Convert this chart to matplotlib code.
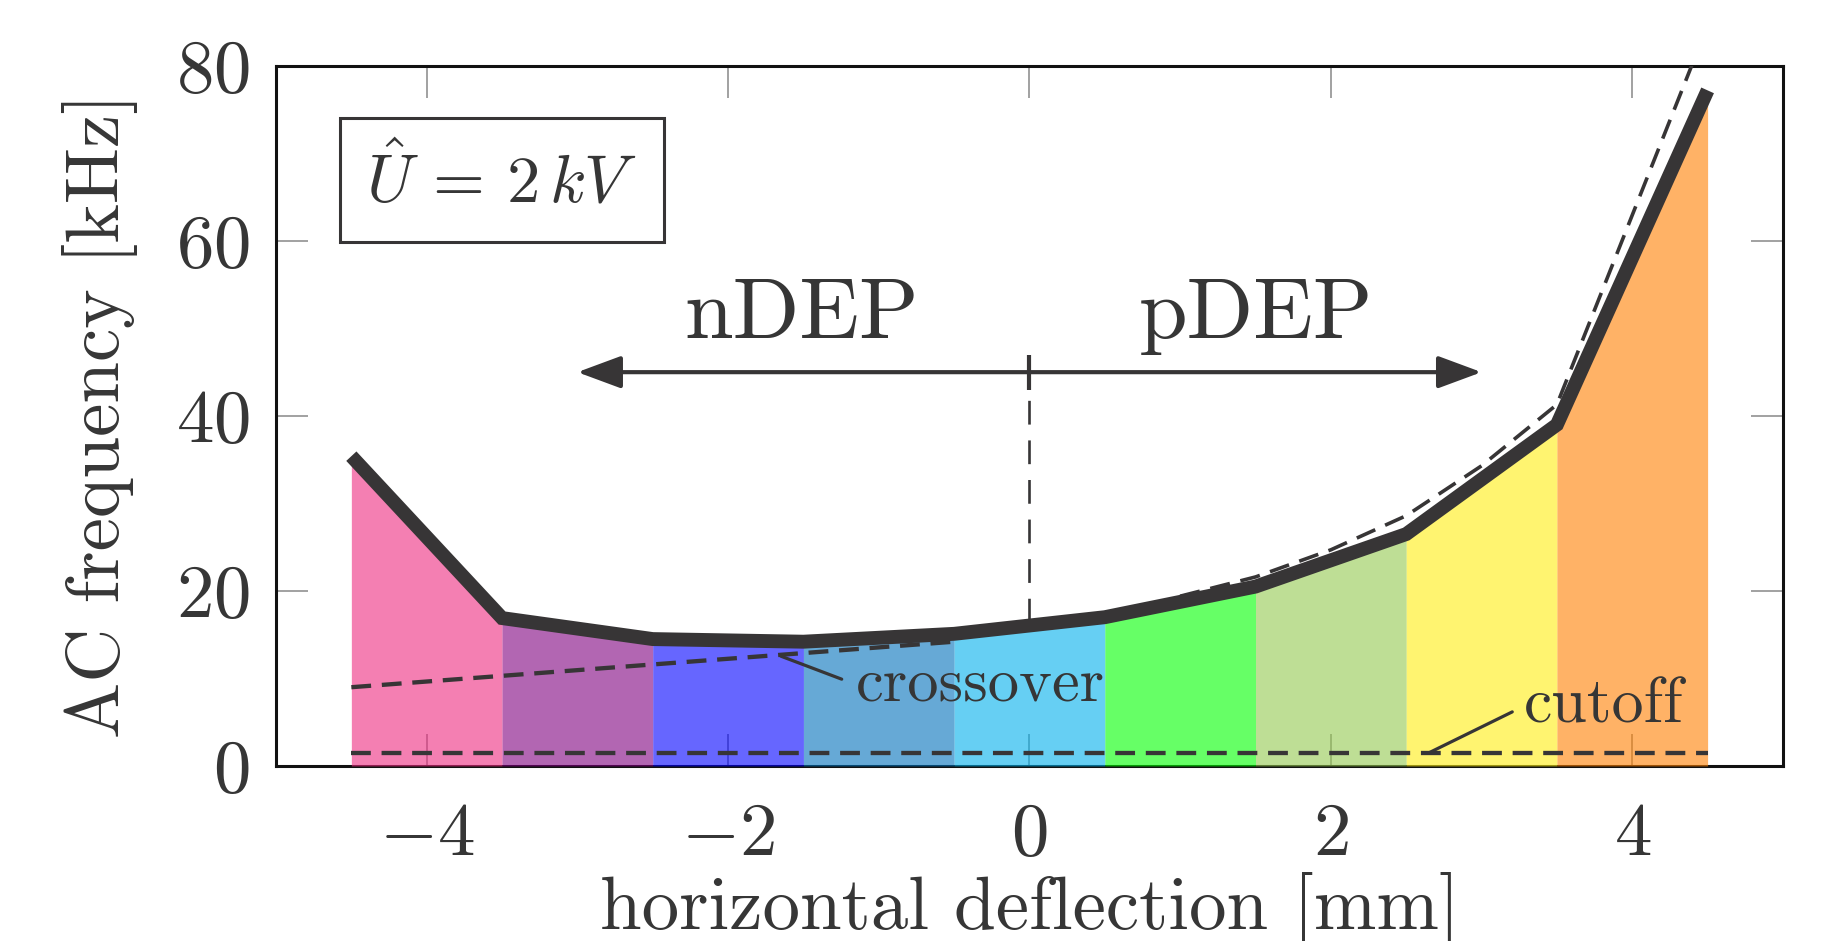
import matplotlib
matplotlib.use("Agg")
import matplotlib.pyplot as plt
from matplotlib.patches import FancyArrowPatch

plt.rcParams['font.family'] = 'cmr10'
plt.rcParams['mathtext.fontset'] = 'cm'
plt.rcParams['axes.formatter.use_mathtext'] = True

# ---- data ----
deflection = [-4.5, -3.5, -2.5, -1.5, -0.5, 0.5, 1.5, 2.5, 3.5, 4.5]
frequency = [35.4, 16.9, 14.5, 14.2, 15.1, 17.0, 20.5, 26.5, 39.0, 77.2]
band_colors = ['#ED2A80', '#800080', '#0000FF', '#0071BB', '#00AFEB',
               '#00FF00', '#94C84E', '#FFEE11', '#FF8000']
fit_x = [1.0, 1.5, 2.0, 2.5, 3.0, 3.5, 4.5]
fit_y = [19.4, 21.6, 24.7, 28.6, 34.3, 41.3, 84.6]
crossover_x = [-4.5, -0.5]
crossover_y = [9.0, 14.2]
cutoff_x = [-4.5, 4.5]
cutoff_y = [1.5, 1.5]
xticks = [-4, -2, 0, 2, 4]
yticks = [0, 20, 40, 60, 80]
arrow_y = 45

TXT = '#363636'
LINE = '#373536'

fig = plt.figure(figsize=(18.4, 9.41), dpi=100)
ax = fig.add_axes([0.15, 0.186, 0.819, 0.744])
ax.set_xlim(-5, 5)
ax.set_ylim(0, 80)

# colored bands under each segment
for i in range(len(deflection) - 1):
    ax.fill_between(deflection[i:i + 2], frequency[i:i + 2], 0,
                    color=band_colors[i], alpha=0.6, linewidth=0, zorder=3)

# dashed reference lines
ax.plot(cutoff_x, cutoff_y, color=LINE, lw=3.1, dashes=(4.6, 2.5), zorder=4)
ax.plot(crossover_x, crossover_y, color=LINE, lw=3.1, dashes=(4.6, 2.5), zorder=4)
ax.plot(fit_x, fit_y, color=LINE, lw=2.6, dashes=(5.6, 3.0), zorder=4)
ax.plot([0, 0], [16.5, arrow_y], color=LINE, lw=1.9, dashes=(9.0, 6.0), zorder=4)

# main curve
ax.plot(deflection, frequency, color=LINE, lw=10, solid_capstyle='butt',
        solid_joinstyle='miter', zorder=5)

# arrows
for tip in (-3.0, 3.0):
    arr = FancyArrowPatch((0, arrow_y), (tip, arrow_y),
                          arrowstyle='-|>,head_length=27,head_width=10',
                          mutation_scale=1, lw=3.0, color=LINE,
                          shrinkA=0, shrinkB=0, zorder=6)
    ax.add_patch(arr)
ax.plot([0, 0], [43.0, 47.0], color=LINE, lw=3.0, solid_capstyle='butt', zorder=6)

ax.text(-1.515, 48.9, 'nDEP', fontsize=63, color=TXT, ha='center', va='baseline')
ax.text(1.50, 48.9, 'pDEP', fontsize=63, color=TXT, ha='center', va='baseline')

# annotations
ax.annotate('crossover', xy=(-1.65, 12.55), xytext=(-1.15, 7.5),
            fontsize=45, color=TXT, ha='left', va='baseline',
            arrowprops=dict(arrowstyle='-', color=LINE, lw=2.3,
                            shrinkA=9, shrinkB=0,
                            relpos=(0, 0.5)), zorder=7)
ax.annotate('cutoff', xy=(2.65, 1.5), xytext=(3.28, 5.0),
            fontsize=46, color=TXT, ha='left', va='baseline',
            arrowprops=dict(arrowstyle='-', color=LINE, lw=2.3,
                            shrinkA=7, shrinkB=0,
                            relpos=(0, 0.5)), zorder=7)

ax.text(-3.5, 67, r'$\hat{U}\,=\,2\,kV$', fontsize=48, color=TXT,
        ha='center', va='center',
        bbox=dict(boxstyle='square,pad=0.40', fc='white', ec=LINE, lw=2.2))

# axes styling
ax.set_xticks(xticks)
ax.set_yticks(yticks)
ax.tick_params(direction='in', length=23, width=1.1, color='#888888',
               top=True, right=True, labelsize=54, labelcolor=TXT)
ax.tick_params(axis='y', pad=19)
ax.tick_params(axis='x', pad=26)
for s in ax.spines.values():
    s.set_linewidth(2.2)
    s.set_color('#111111')
    s.set_zorder(2.5)

ax.set_xlabel('horizontal deflection [mm]', fontsize=54, color=TXT, labelpad=2)
ax.set_ylabel('AC frequency [kHz]', fontsize=54, color=TXT, labelpad=27)

fig.savefig('out.png', dpi=100)
